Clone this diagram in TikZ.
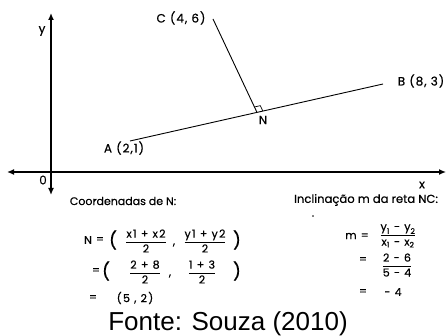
\documentclass[tikz,border=0pt]{standalone}
\usepackage{amsmath}
\usepackage{fontspec}
\setmainfont{Poppins}[FakeBold=0.5]
\newfontfamily\spfont{Poppins}[FakeBold=0.5,LetterSpace=8]
\newfontfamily\frfont{Poppins}[FakeBold=0.5,LetterSpace=12]
\newfontfamily\capfont{Liberation Sans}
\usetikzlibrary{arrows.meta,calc}
\begin{document}
\begin{tikzpicture}[x=1pt,y=-1pt,
  axis/.style={line width=1.3pt,{Latex[length=7pt,width=6pt]}-{Latex[length=7pt,width=6pt]}},
  seg/.style={line width=0.9pt},
  lbl/.style={font=\spfont\fontsize{12}{13}\selectfont,inner sep=0pt},
  txt/.style={font=\fontsize{11}{13}\selectfont,inner sep=0pt},
  frm/.style={font=\frfont\fontsize{11}{13}\selectfont,inner sep=0pt},
  par/.style={font=\fontsize{17}{17}\selectfont,inner sep=0pt}]
\useasboundingbox (0,0) rectangle (446,336);
% axes
\coordinate (yt) at (51,13);
\coordinate (yb) at (51,195);
\coordinate (xl) at (7,172);
\coordinate (xr) at (446,172);
\draw[axis] (yb) -- (yt);
\draw[axis] (xl) -- (xr);
\node[lbl] (ly) at (42,31) {y};
\node[lbl] (l0) at (43,180) {0};
\node[lbl] (lx) at (422,185) {x};
% points
\coordinate (A) at (130,141);
\coordinate (B) at (383,84);
\coordinate (C) at (213,19);
\coordinate (N) at (257,112.4);
\draw[seg] (A) -- (B);
\draw[seg] (C) -- (N);
% right angle mark
\coordinate (ra1) at ($(N)!6pt!(C)$);
\coordinate (ra2) at ($(N)!6pt!(B)$);
\coordinate (ra3) at ($(ra1)+(ra2)-(N)$);
\draw[line width=0.7pt] (ra1) -- (ra3) -- (ra2);
\node[lbl] (lC) at (181,18) {C (4, 6)};
\node[lbl] (lB) at (421,81) {B (8, 3)};
\node[lbl] (lA) at (124,148) {A (2,1)};
\node[lbl] (lN) at (263,120) {N};
% bottom texts
\node[txt] (t1) at (123,201) {Coordenadas de N:};
\node[txt,font=\fontsize{11.6}{13}\selectfont] (t2) at (366,200) {Inclinação m da reta NC:};
\node[txt] (dot) at (313,216) {.};
% left formulas
\node[frm] (n1) at (88,240) {N};
\node[frm] (en1) at (100,240) {=};
\node[par] (p1) at (113,240) {(};
\node[frm] (f1) at (146,241) {$\dfrac{\text{x1 + x2}}{\text{2}}$};
\node[frm] (c1) at (174,245) {,};
\node[frm] (f2) at (205,241) {$\dfrac{\text{y1 + y2}}{\text{2}}$};
\node[par] (q1) at (237,240) {)};
\node[frm] (e2) at (96,271) {=};
\node[par] (p2) at (106,271) {(};
\node[frm] (f3) at (145,272) {$\dfrac{\text{2 + 8}}{\text{2}}$};
\node[frm] (c2) at (170,276) {,};
\node[frm] (f4) at (202,272) {$\dfrac{\text{1 + 3}}{\text{2}}$};
\node[par] (q2) at (237,271) {)};
\node[frm] (e3) at (93,298) {=};
\node[frm] (r3) at (135,298) {(5 , 2)};
% right formulas
\node[frm,anchor=east] (m1) at (369,236) {m =};
\node[frm] (f5) at (398,236) {$\dfrac{\text{y}_{\text{1}}\text{ - }\text{y}_{\text{2}}}{\text{x}_{\text{1}}\text{ - }\text{x}_{\text{2}}}$};
\node[frm] (e5) at (363,260) {=};
\node[frm] (f6) at (397,265) {$\dfrac{\text{2 - 6}}{\text{5 - 4}}$};
\node[frm] (e6) at (363,292) {=};
\node[frm] (r6) at (393,292) {- 4};
% caption
\node[inner sep=0pt,font=\capfont\fontsize{26}{28}\selectfont] (cap) at (228,324) {Fonte: Souza (2010)};
\end{tikzpicture}
\end{document}
